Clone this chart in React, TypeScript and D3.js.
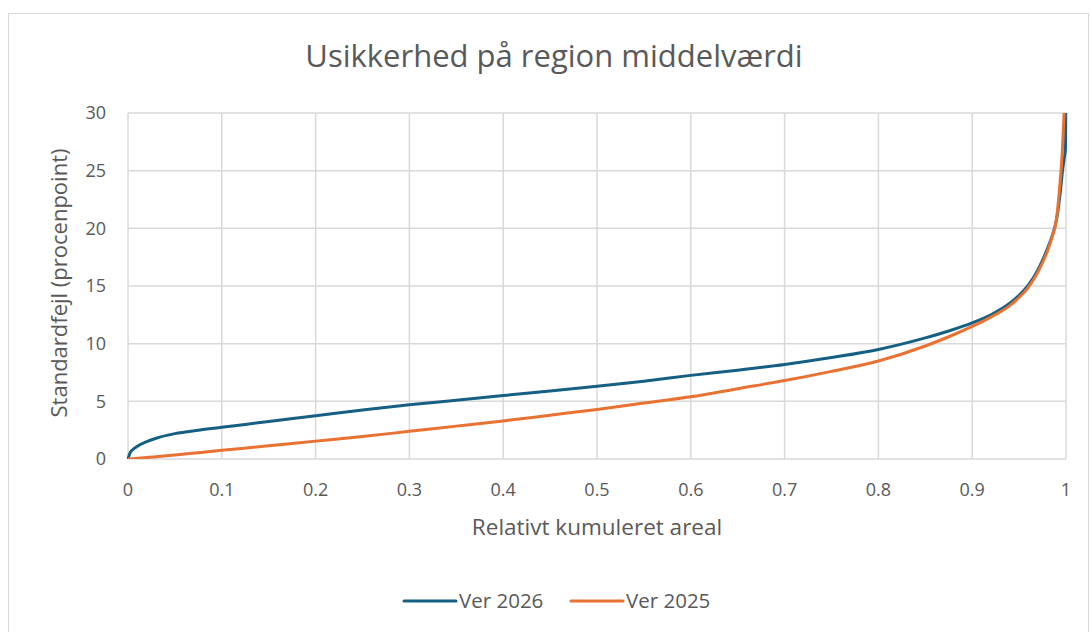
import React from 'react';
import * as d3 from 'd3';

const xValues = [0, 0.002, 0.005, 0.01, 0.02, 0.03, 0.05, 0.075, 0.1, 0.15, 0.2, 0.25, 0.3, 0.35, 0.4, 0.45, 0.5, 0.55, 0.6, 0.65, 0.7, 0.75, 0.8, 0.85, 0.875, 0.9, 0.92, 0.94, 0.95, 0.96, 0.97, 0.98, 0.985, 0.99, 0.994, 0.996, 0.998, 0.9995, 1];
const ver2026 = [0, 0.5, 0.8, 1.1, 1.5, 1.8, 2.2, 2.5, 2.75, 3.25, 3.75, 4.25, 4.7, 5.1, 5.5, 5.9, 6.3, 6.75, 7.25, 7.7, 8.2, 8.8, 9.5, 10.5, 11.1, 11.8, 12.5, 13.5, 14.2, 15.1, 16.4, 18.2, 19.3, 20.8, 23.2, 24.8, 26.0, 27.0, 35];
const ver2025 = [0, 0.01, 0.03, 0.06, 0.12, 0.2, 0.35, 0.55, 0.75, 1.15, 1.55, 1.95, 2.4, 2.85, 3.3, 3.8, 4.3, 4.85, 5.4, 6.1, 6.8, 7.6, 8.5, 9.8, 10.6, 11.5, 12.3, 13.3, 14.0, 14.9, 16.2, 18.0, 19.2, 20.9, 24.3, 26.5, 30, 33, 36];

const series = [
  { name: 'Ver 2026', values: ver2026, color: '#156082' },
  { name: 'Ver 2025', values: ver2025, color: '#E97132' },
];

const font = '"Open Sans", "Liberation Sans", Arial, sans-serif';
const textColor = '#595959';
const gridColor = '#d9d9d9';

export default function App() {
  const width = 1091;
  const height = 632;
  const margin = { top: 113, right: 25, bottom: 173, left: 128 };
  const innerW = width - margin.left - margin.right;
  const innerH = height - margin.top - margin.bottom;

  const x = d3.scaleLinear().domain([0, 1]).range([0, innerW]);
  const y = d3.scaleLinear().domain([0, 30]).range([innerH, 0]);

  const line = d3.line<number>()
    .x((_, i) => x(xValues[i]))
    .y(d => y(d))
    .curve(d3.curveMonotoneX);

  const xTicks = x.ticks(10);
  const yTicks = y.ticks(6);

  return (
    <div style={{ position: 'absolute', left: 0, top: 0 }}>
      <svg width={width} height={height} style={{ display: 'block' }}>
        <rect x={8.5} y={13.5} width={1080} height={640} fill="#fff" stroke={gridColor} />
        <text x={554} y={67} textAnchor="middle" fontFamily={font} fontSize={31} fill={textColor}>
          Usikkerhed på region middelværdi
        </text>
        <defs>
          <clipPath id="plot">
            <rect x={-5} y={0} width={innerW + 10} height={innerH} />
          </clipPath>
        </defs>
        <g transform={`translate(${margin.left},${margin.top})`}>
          {yTicks.map(t => (
            <line key={'gy' + t} x1={0} x2={innerW} y1={y(t)} y2={y(t)} stroke={gridColor} strokeWidth={1.5} />
          ))}
          {xTicks.map(t => (
            <line key={'gx' + t} x1={x(t)} x2={x(t)} y1={0} y2={innerH} stroke={gridColor} strokeWidth={1.5} />
          ))}
          {yTicks.map(t => (
            <text key={'ty' + t} x={-22} y={y(t)} dy="0.35em" textAnchor="end" fontFamily={font} fontSize={18} fill={textColor}>
              {t}
            </text>
          ))}
          {xTicks.map(t => (
            <text key={'tx' + t} x={x(t)} y={innerH + 37} textAnchor="middle" fontFamily={font} fontSize={18} fill={textColor}>
              {String(+t.toFixed(1))}
            </text>
          ))}
          <g clipPath="url(#plot)">
            {series.map(s => (
              <path key={s.name} d={line(s.values) || ''} fill="none" stroke={s.color} strokeWidth={3} strokeLinejoin="round" />
            ))}
          </g>
        </g>
        <text x={597} y={535} textAnchor="middle" fontFamily={font} fontSize={22.5} fill={textColor}>
          Relativt kumuleret areal
        </text>
        <text transform={`translate(67,${margin.top + innerH / 2 - 3}) rotate(-90)`} textAnchor="middle" fontFamily={font} fontSize={22} fill={textColor}>
          Standardfejl (procenpoint)
        </text>
        {series.map((s, i) => {
          const lx = 404 + i * 167;
          return (
            <g key={'lg' + s.name}>
              <line x1={lx} x2={lx + 52} y1={601} y2={601} stroke={s.color} strokeWidth={3} strokeLinecap="round" />
              <text x={lx + 55} y={601} dy="0.35em" fontFamily={font} fontSize={20.5} fill={textColor}>
                {s.name}
              </text>
            </g>
          );
        })}
      </svg>
    </div>
  );
}
